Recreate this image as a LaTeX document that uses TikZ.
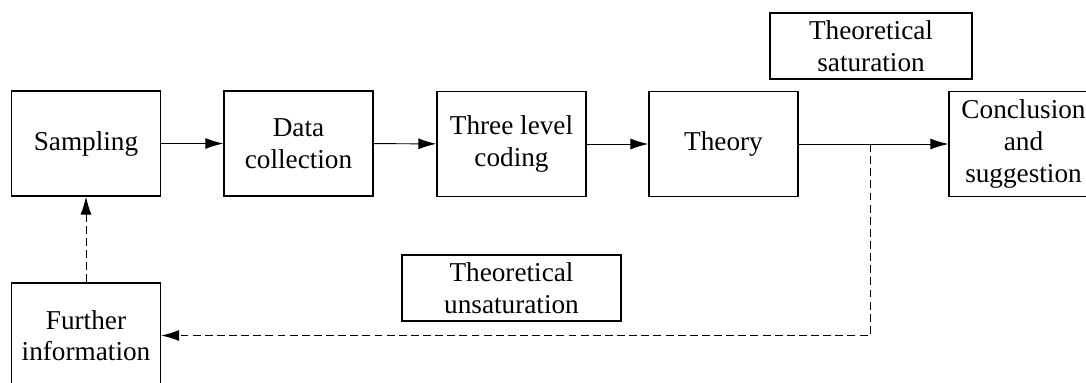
\documentclass[tikz,border=0pt]{standalone}
\usepackage{fontspec}
\setmainfont{Liberation Serif}
\usetikzlibrary{arrows.meta,positioning}

\begin{document}
\begin{tikzpicture}[
    box/.style={rectangle, draw, line width=0.75pt, minimum width=2.98cm,
                minimum height=2.1cm, align=center, inner sep=1pt,
                font=\fontsize{15.5}{18}\selectfont},
    note/.style={rectangle, draw, line width=0.75pt, minimum height=1.32cm,
                 align=center, inner sep=1pt, font=\fontsize{15.5}{18}\selectfont},
    arr/.style={-{Latex[length=0.36cm, width=0.22cm]}, line width=0.55pt},
    back/.style={arr, dash pattern=on 4.5pt off 2.4pt}
  ]

  % ---- Page frame ----
  \useasboundingbox (0,0) rectangle (21.72,7.64);

  % ---- Main chain ----
  \node[box] (samp) at (1.72,4.77) {Sampling};
  \node[box] (data) at (5.97,4.77) {Data\\collection};
  \node[box] (code) at (10.23,4.76) {Three level\\coding};
  \node[box] (theo) at (14.47,4.76) {Theory};
  \node[box] (conc) at (20.47,4.76) {Conclusion\\and\\suggestion};

  % ---- Feedback side ----
  \node[box] (info) at (1.72,0.93) {Further\\information};
  \node[note, minimum width=4.04cm] (sat) at (17.42,6.72) {Theoretical\\saturation};
  \node[note, minimum width=4.38cm] (unsat) at (10.23,1.88) {Theoretical\\unsaturation};

  % ---- Arrows ----
  \draw[arr] (samp) -- (data);
  \draw[arr] (data) -- (code);
  \draw[arr] (code) -- (theo);
  \draw[arr] (theo) -- (conc);

  \coordinate (fork) at (17.4,4.76);
  \draw[back] (fork) |- (info.east);
  \draw[back] (info) -- (samp);

\end{tikzpicture}
\end{document}
